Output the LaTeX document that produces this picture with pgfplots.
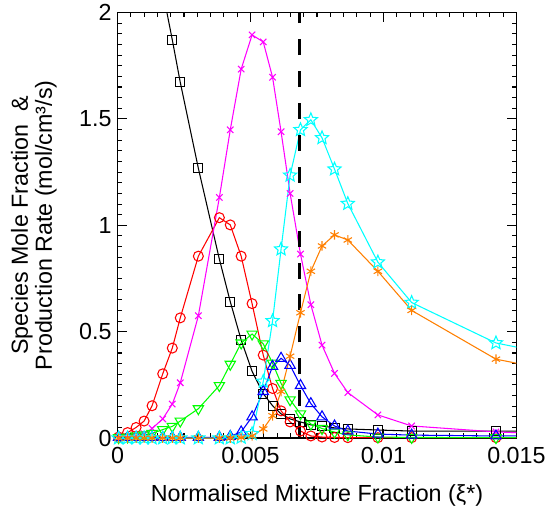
\documentclass[border=0pt]{standalone}
\usepackage{fontspec}
\setmainfont{Liberation Sans}
\usepackage{pgfplots}
\pgfplotsset{compat=1.18}
\usetikzlibrary{plotmarks}
\definecolor{myorange}{RGB}{255,127,0}
\definecolor{mymag}{RGB}{255,0,255}
\definecolor{mycyan}{RGB}{0,255,255}
\definecolor{mygreen}{RGB}{0,255,0}
\definecolor{myblue}{RGB}{0,0,255}
\definecolor{myred}{RGB}{255,0,0}
\pgfdeclareplotmark{ostar}{%
  \pgfpathmoveto{\pgfpointpolar{90}{\pgfplotmarksize}}%
  \pgfpathlineto{\pgfpointpolar{126}{0.45\pgfplotmarksize}}%
  \pgfpathlineto{\pgfpointpolar{162}{\pgfplotmarksize}}%
  \pgfpathlineto{\pgfpointpolar{198}{0.45\pgfplotmarksize}}%
  \pgfpathlineto{\pgfpointpolar{234}{\pgfplotmarksize}}%
  \pgfpathlineto{\pgfpointpolar{270}{0.45\pgfplotmarksize}}%
  \pgfpathlineto{\pgfpointpolar{306}{\pgfplotmarksize}}%
  \pgfpathlineto{\pgfpointpolar{342}{0.45\pgfplotmarksize}}%
  \pgfpathlineto{\pgfpointpolar{18}{\pgfplotmarksize}}%
  \pgfpathlineto{\pgfpointpolar{54}{0.45\pgfplotmarksize}}%
  \pgfpathclose
  \pgfusepathqstroke
}
\begin{document}
\begin{tikzpicture}
\begin{axis}[
  scale only axis, width=300pt, height=320pt,
  xmin=0, xmax=0.015, ymin=0, ymax=2,
  font=\fontsize{17.5}{18}\selectfont,
  scaled x ticks=false, scaled y ticks=false,
  xtick={0,0.005,0.01,0.015}, xticklabels={0,0.005,0.01,0.015},
  ytick={0,0.5,1,1.5,2}, yticklabels={0,0.5,1,1.5,2},
  minor x tick num=9, minor y tick num=9,
  tick align=inside, major tick length=7pt, minor tick length=3.5pt,
  axis line style={line width=0.9pt}, tick style={black, line width=0.8pt},
  xticklabel style={yshift=-3pt},
  yticklabel style={xshift=-1pt},
  xlabel={Normalised Mixture Fraction (ξ*)},
  ylabel={Species Mole Fraction \ \&\\Production Rate (mol/cm³/s)},
  ylabel style={align=center, yshift=10pt},
  xlabel style={yshift=-9pt},
  every axis plot/.append style={line width=0.8pt, mark options={solid, line width=0.8pt}},
]
% black squares
\addplot[black, mark=square, mark size=3.4pt] coordinates {
(0.0013,2.5) (0.0017,2.1) (0.00206,1.872) (0.00236,1.672) (0.00304,1.268) (0.00383,0.841) (0.00424,0.641) (0.00465,0.461) (0.00506,0.314) (0.00548,0.209) (0.00583,0.152) (0.00615,0.114) (0.00649,0.090) (0.00688,0.076) (0.00727,0.062) (0.00769,0.057) (0.00816,0.048) (0.00866,0.043) (0.00979,0.038) (0.01106,0.033) (0.01423,0.033) (0.0175,0.033)};
% red circles
\addplot[myred, mark=o, mark size=3.75pt] coordinates {
(0.00004,0.005) (0.00038,0.026) (0.0007,0.05) (0.001,0.08) (0.0013,0.152) (0.0017,0.302) (0.00206,0.423) (0.00236,0.565) (0.00304,0.855) (0.00383,1.036) (0.00424,1.002) (0.00465,0.855) (0.00506,0.632) (0.00548,0.39) (0.00583,0.233) (0.00615,0.128) (0.00649,0.076) (0.00688,0.033) (0.00727,0.01) (0.00769,0.005) (0.00816,0.003) (0.00866,0.002) (0.00979,0.002) (0.01106,0.002) (0.01423,0.002) (0.0175,0.002)};
% magenta x
\addplot[mymag, mark=x, mark size=3.4pt] coordinates {
(0.00004,0.0) (0.00038,0.002) (0.0007,0.008) (0.001,0.02) (0.0013,0.045) (0.0017,0.09) (0.00206,0.16) (0.00236,0.26) (0.00304,0.575) (0.00383,1.131) (0.00424,1.449) (0.00465,1.734) (0.00506,1.895) (0.00548,1.862) (0.00583,1.696) (0.00615,1.44) (0.00649,1.15) (0.00688,0.865) (0.00727,0.627) (0.00769,0.437) (0.00816,0.304) (0.00866,0.214) (0.00979,0.109) (0.01106,0.057) (0.01423,0.029) (0.0175,0.014)};
% green down triangles
\addplot[mygreen, mark=triangle, mark size=4.5pt, mark options={rotate=180}] coordinates {
(0.00004,0.002) (0.00038,0.005) (0.0007,0.01) (0.001,0.015) (0.0013,0.022) (0.0017,0.04) (0.00206,0.055) (0.00236,0.08) (0.00304,0.138) (0.00383,0.247) (0.00424,0.347) (0.00465,0.447) (0.00506,0.489) (0.00548,0.443) (0.00583,0.352) (0.00615,0.257) (0.00649,0.18) (0.00688,0.114) (0.00727,0.066) (0.00769,0.045) (0.00816,0.028) (0.00866,0.015) (0.00979,0.005) (0.01106,0.003) (0.01423,0.002) (0.0175,0.002)};
% blue triangles
\addplot[myblue, mark=triangle, mark size=4.5pt] coordinates {
(0.00004,0.003) (0.00038,0.003) (0.0007,0.003) (0.001,0.003) (0.0013,0.003) (0.0017,0.003) (0.00206,0.003) (0.00236,0.003) (0.00304,0.003) (0.00383,0.004) (0.00424,0.008) (0.00465,0.029) (0.00506,0.1) (0.00548,0.219) (0.00583,0.337) (0.00615,0.375) (0.00649,0.342) (0.00688,0.247) (0.00727,0.162) (0.00769,0.1) (0.00816,0.057) (0.00866,0.033) (0.00979,0.019) (0.01106,0.014) (0.01423,0.01) (0.0175,0.01)};
% cyan stars
\addplot[mycyan, mark=ostar, mark size=5.2pt] coordinates {
(0.00004,0.0) (0.00038,0.0) (0.0007,0.0) (0.001,0.0) (0.0013,0.0) (0.0017,0.0) (0.00206,0.0) (0.00236,0.0) (0.00304,0.0) (0.00383,0.0) (0.00424,0.0) (0.00465,0.003) (0.00506,0.02) (0.00548,0.266) (0.00583,0.551) (0.00615,0.888) (0.00649,1.235) (0.00688,1.449) (0.00727,1.496) (0.00769,1.411) (0.00816,1.264) (0.00866,1.102) (0.00979,0.827) (0.01106,0.637) (0.01423,0.447) (0.0175,0.365)};
% orange asterisks
\addplot[myorange, mark=asterisk, mark size=3.6pt] coordinates {
(0.00004,0.0) (0.00038,0.0) (0.0007,0.0) (0.001,0.0) (0.0013,0.0) (0.0017,0.0) (0.00206,0.0) (0.00236,0.0) (0.00304,0.0) (0.00383,0.0) (0.00424,0.0) (0.00465,0.002) (0.00506,0.01) (0.00548,0.043) (0.00583,0.105) (0.00615,0.219) (0.00649,0.385) (0.00688,0.589) (0.00727,0.784) (0.00769,0.903) (0.00816,0.955) (0.00866,0.931) (0.00979,0.784) (0.01106,0.6) (0.01423,0.371) (0.0175,0.29)};
% dashed vertical line
\addplot[black, line width=2.2pt, dash pattern=on 12pt off 12pt, mark=none] coordinates {(0.00685,0) (0.00685,2)};
\end{axis}
\path ([xshift=-5pt]current bounding box.west);
\end{tikzpicture}
\end{document}
